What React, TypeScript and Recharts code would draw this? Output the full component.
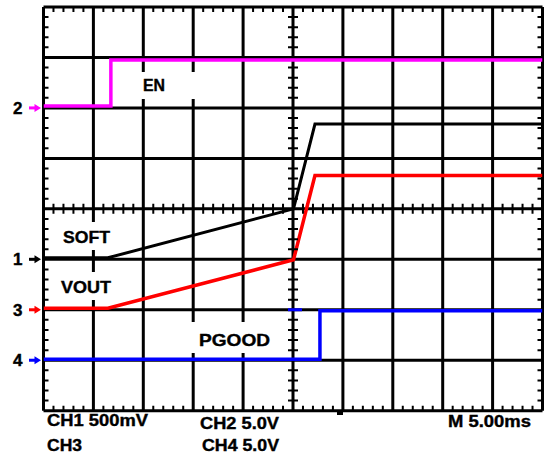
import { ComposedChart, Line, XAxis, YAxis, ReferenceLine, ReferenceDot } from "recharts";

// scope traces, in divisions (10 across, 8 up)
const enTime = [0, 1.35, 1.35, 10];
const enLevel = [6.04, 6.04, 6.95, 6.95];

const softTime = [0, 1.29, 5.01, 5.44, 10];
const softLevel = [3.03, 3.03, 4.0, 5.68, 5.68];

const voutTime = [0, 1.29, 5.01, 5.44, 10];
const voutLevel = [2.03, 2.03, 2.99, 4.66, 4.66];

const pgoodTime = [0, 5.54, 5.54, 10];
const pgoodLevel = [1.02, 1.02, 1.98, 1.98];

const blipTime = [4.9, 5.18];
const blipLevel = [2.0, 2.0];

// channel ground markers on the left edge
const markerNames = ["2", "1", "3", "4"];
const markerLevels = [6, 3, 2, 1];
const markerColors = ["#ff00ff", "#000000", "#ff0000", "#0000ff"];

const xMajor = [0, 1, 2, 3, 4, 5, 6, 7, 8, 9, 10];
const yMajor = [0, 1, 2, 3, 4, 5, 6, 7, 8];

const W = 548;
const H = 455;
const FONT = "'Liberation Sans', Arial, sans-serif";
const MARGIN = { top: 7, right: 5.5, bottom: 44.3, left: 43.5 };

const toPoints = (xs: number[], ys: number[]) => xs.map((x, i) => ({ x, y: ys[i] }));

// minor ticks every 0.2 div, skipping the major lines
const minor = (max: number) => {
  const out: number[] = [];
  for (let i = 1; i < max * 5; i++) {
    if (i % 5 !== 0) out.push(i / 5);
  }
  return out;
};
const xMinor = minor(10);
const yMinor = minor(8);

// graticule geometry (same box as the chart's plot area)
const plotW = W - MARGIN.left - MARGIN.right;
const plotH = H - MARGIN.top - MARGIN.bottom;
const gx = (d: number) => MARGIN.left + (d / 10) * plotW;
const gy = (d: number) => MARGIN.top + (1 - d / 8) * plotH;

const ArrowMarker = (props: any) => {
  const { cx, cy, name, color } = props;
  return (
    <g>
      <text
        x={cx - 21}
        y={cy + 6}
        textAnchor="end"
        fontFamily={FONT}
        fontWeight="bold"
        fontSize={17}
        stroke="#000"
        strokeWidth={0.4}
        fill="#000"
      >
        {name}
      </text>
      <rect x={cx - 14.5} y={cy - 1.5} width={6} height={3} fill={color} />
      <polygon
        points={`${cx - 9},${cy - 4} ${cx - 2.5},${cy} ${cx - 9},${cy + 4}`}
        fill={color}
      />
    </g>
  );
};

const Label = ({ x, y, w, children }: any) => (
  <text
    x={x}
    y={y}
    textLength={w}
    lengthAdjust="spacingAndGlyphs"
    fontFamily={FONT}
    fontWeight="bold"
    fontSize={17}
    stroke="#000"
    strokeWidth={0.4}
    fill="#000"
  >
    {children}
  </text>
);

const App = () => {
  const L = 5;
  let ticks = "";
  xMinor.forEach((d) => {
    const x = gx(d);
    ticks += `M${x},${gy(4) - L}L${x},${gy(4) + L}`;
    ticks += `M${x},${gy(8)}L${x},${gy(8) + L}`;
    ticks += `M${x},${gy(0)}L${x},${gy(0) - L}`;
  });
  yMinor.forEach((d) => {
    const y = gy(d);
    ticks += `M${gx(5) - L},${y}L${gx(5) + L},${y}`;
    ticks += `M${gx(0)},${y}L${gx(0) + L},${y}`;
    ticks += `M${gx(10)},${y}L${gx(10) - L},${y}`;
  });

  return (
    <div style={{ position: "absolute", left: 0, top: 0, width: W, height: H, background: "#fff" }}>
      <ComposedChart width={W} height={H} margin={MARGIN}>
        <XAxis type="number" dataKey="x" domain={[0, 10]} allowDataOverflow hide />
        <YAxis type="number" dataKey="y" domain={[0, 8]} allowDataOverflow hide />

        {xMajor.map((x) => (
          <ReferenceLine key={"vx" + x} x={x} stroke="#000" strokeWidth={3} />
        ))}
        {yMajor.map((y) => (
          <ReferenceLine key={"hy" + y} y={y} stroke="#000" strokeWidth={3} />
        ))}

        <Line data={toPoints(enTime, enLevel)} dataKey="y" type="linear" stroke="#ff00ff" strokeWidth={3.5} dot={false} isAnimationActive={false} />
        <Line data={toPoints(softTime, softLevel)} dataKey="y" type="linear" stroke="#000000" strokeWidth={3} dot={false} isAnimationActive={false} />
        <Line data={toPoints(voutTime, voutLevel)} dataKey="y" type="linear" stroke="#ff0000" strokeWidth={3.5} dot={false} isAnimationActive={false} />
        <Line data={toPoints(pgoodTime, pgoodLevel)} dataKey="y" type="linear" stroke="#0000ff" strokeWidth={3.5} dot={false} isAnimationActive={false} />
        <Line data={toPoints(blipTime, blipLevel)} dataKey="y" type="linear" stroke="#0000ff" strokeWidth={3} dot={false} isAnimationActive={false} />

        {markerLevels.map((lvl, i) => (
          <ReferenceDot
            key={"mk" + i}
            x={0}
            y={lvl}
            r={0}
            ifOverflow="visible"
            shape={(p: any) => <ArrowMarker {...p} name={markerNames[i]} color={markerColors[i]} />}
          />
        ))}
      </ComposedChart>

      <svg
        width={W}
        height={H}
        style={{ position: "absolute", left: 0, top: 0, pointerEvents: "none" }}
      >
        {/* minor graticule ticks */}
        <path d={ticks} stroke="#000" strokeWidth={2} fill="none" />

        {/* label boxes hide the grid behind the text */}
        <rect x={122} y={72} width={92} height={27} fill="#fff" />
        <rect x={52} y={222} width={70} height={28} fill="#fff" />
        <rect x={52} y={272} width={70} height={28} fill="#fff" />
        <rect x={186} y={322} width={94} height={31} fill="#fff" />

        <Label x={143} y={91} w={22}>EN</Label>
        <Label x={63} y={243} w={47}>SOFT</Label>
        <Label x={61} y={293} w={50}>VOUT</Label>
        <Label x={199} y={345.5} w={71}>PGOOD</Label>

        <Label x={47} y={426} w={101}>CH1 500mV</Label>
        <Label x={47} y={451} w={35}>CH3</Label>
        <Label x={200} y={429} w={79}>CH2 5.0V</Label>
        <Label x={202} y={451} w={77}>CH4 5.0V</Label>
        <Label x={448} y={427} w={83}>M 5.00ms</Label>

        {/* trigger position mark */}
        <rect x={337} y={412} width={6} height={3} fill="#000" />
      </svg>
    </div>
  );
};

export default App;
